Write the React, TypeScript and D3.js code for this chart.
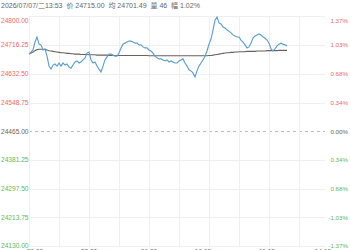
import React from 'react';
import * as d3 from 'd3';

const W = 350;
const H = 250;

const titleText = '2026/07/07/二13:53  价 24715.00  均 24701.49  量 46  幅 1.02%';

const yTicks = [24800, 24716.25, 24632.5, 24548.75, 24465, 24381.25, 24297.5, 24213.75, 24130];
const pctLabels = ['1.37%', '1.03%', '0.68%', '0.34%', '0.00%', '0.34%', '0.68%', '-1.03%', '-1.37%'];
const prevClose = 24465;

const xLabels = ['21:00', '23:00', '01:00', '10:15', '11:15', '14:15'];
const xLabelSlots = [3, 30, 60, 87, 119, 147];
const xGridSlots = [0, 15, 30, 45, 60, 75, 90, 105, 120, 135];
const totalSlots = 148;

const price = [
  24690, 24696, 24702, 24725, 24740, 24719, 24717, 24702, 24705, 24684,
  24655, 24646, 24658, 24661, 24655, 24664, 24655, 24664, 24658, 24661,
  24652, 24649, 24658, 24667, 24670, 24664, 24667, 24673, 24679, 24693,
  24696, 24673, 24664, 24667, 24655, 24646, 24638, 24655, 24673, 24682,
  24690, 24690, 24687, 24684, 24684, 24693, 24708, 24719, 24722, 24725,
  24728, 24728, 24725, 24722, 24722, 24717, 24717, 24711, 24708, 24708,
  24702, 24699, 24693, 24684, 24679, 24676, 24676, 24673, 24670, 24673,
  24667, 24670, 24667, 24664, 24664, 24670, 24673, 24676, 24664, 24655,
  24644, 24641, 24635, 24623, 24641, 24655, 24664, 24673, 24684, 24699,
  24719, 24734, 24760, 24789, 24798, 24781, 24778, 24769, 24766, 24760,
  24757, 24752, 24746, 24743, 24740, 24740, 24731, 24725, 24717, 24708,
  24711, 24722, 24737, 24743, 24746, 24749, 24746, 24740, 24737, 24731,
  24722, 24705, 24699, 24705, 24714, 24719, 24722, 24719, 24717, 24714,
];

const avg = [
  24690, 24693, 24696, 24700, 24703, 24704, 24704, 24704, 24703, 24702,
  24700, 24699, 24698, 24697, 24696, 24695, 24694, 24694, 24693, 24692,
  24692, 24691, 24691, 24690, 24690, 24690, 24689, 24689, 24689, 24689,
  24688, 24688, 24688, 24688, 24687, 24687, 24687, 24687, 24687, 24687,
  24686, 24686, 24686, 24686, 24686, 24686, 24686, 24686, 24686, 24686,
  24686, 24686, 24686, 24686, 24686, 24686, 24686, 24686, 24686, 24686,
  24685, 24685, 24685, 24685, 24685, 24685, 24685, 24685, 24685, 24685,
  24685, 24685, 24685, 24685, 24685, 24685, 24685, 24685, 24685, 24685,
  24685, 24685, 24685, 24685, 24685, 24685, 24685, 24685, 24685, 24685,
  24686, 24686, 24687, 24688, 24689, 24690, 24691, 24692, 24693, 24694,
  24694, 24695, 24695, 24696, 24696, 24697, 24697, 24697, 24697, 24698,
  24698, 24698, 24698, 24698, 24699, 24699, 24699, 24699, 24699, 24700,
  24700, 24700, 24700, 24700, 24700, 24701, 24701, 24701, 24701, 24701,
];

const RED = '#e86a6a';
const GREEN = '#5cb85c';
const GRAY = '#666666';
const FONT = '"Liberation Sans", Arial, "Noto Sans CJK SC", sans-serif';

export default function App() {
  const plotL = 29;
  const plotR = 325;
  const x = d3.scaleLinear().domain([0, totalSlots]).range([plotL, plotR]);
  const y = d3.scaleLinear().domain([24130, 24800]).range([246, 16.4]);

  const priceLine = d3
    .line<number>()
    .x((_, i) => x(i))
    .y((d) => y(d))
    .curve(d3.curveLinear);

  const colorFor = (v: number) => (v > prevClose ? RED : v < prevClose ? GREEN : GRAY);

  return (
    <svg
      width={W}
      height={H}
      style={{ position: 'absolute', left: 0, top: 0, background: '#fff' }}
      fontFamily={FONT}
    >
      <rect x={0} y={0} width={W} height={H} fill="#fff" />
      {yTicks.map((t, i) =>
        t === prevClose ? (
          <line
            key={'h' + i}
            x1={plotL}
            x2={plotR}
            y1={Math.round(y(t)) + 0.5}
            y2={Math.round(y(t)) + 0.5}
            stroke="#bbbbbb"
            strokeDasharray="3,3"
            strokeWidth={1}
          />
        ) : (
          <line
            key={'h' + i}
            x1={plotL}
            x2={plotR}
            y1={Math.round(y(t)) + 0.5}
            y2={Math.round(y(t)) + 0.5}
            stroke="#efefef"
            strokeWidth={1}
          />
        )
      )}
      {xGridSlots.map((s, i) => (
        <line
          key={'v' + i}
          x1={Math.round(x(s)) + 0.5}
          x2={Math.round(x(s)) + 0.5}
          y1={y(24800)}
          y2={y(24130)}
          stroke="#efefef"
          strokeWidth={1}
        />
      ))}
      <path d={priceLine(avg) || ''} fill="none" stroke="#6a605c" strokeWidth={1.1} />
      <path d={priceLine(price) || ''} fill="none" stroke="#5a9fcc" strokeWidth={1.15} />
      {yTicks.map((t, i) => {
        const yy = y(t);
        const dy = i === 0 ? 6.5 : i === yTicks.length - 1 ? 1.5 : 2.3;
        return (
          <text key={'l' + i} x={1} y={yy + dy} fontSize={6.6} fill={colorFor(t)}>
            {t.toFixed(2)}
          </text>
        );
      })}
      {pctLabels.map((p, i) => {
        const t = yTicks[i];
        const yy = y(t);
        const dy = i === 0 ? 6.5 : i === yTicks.length - 1 ? 1.5 : 2.3;
        return (
          <text key={'r' + i} x={348} y={yy + dy} fontSize={6.2} textAnchor="end" fill={colorFor(t)}>
            {p}
          </text>
        );
      })}
      {xLabels.map((l, i) => (
        <text key={'x' + i} x={x(xLabelSlots[i])} y={254} fontSize={6.6} textAnchor="middle" fill={GRAY}>
          {l}
        </text>
      ))}
      <text x={1} y={8} fontSize={7} fill={GRAY} style={{ whiteSpace: 'pre' }}>
        {titleText}
      </text>
    </svg>
  );
}
